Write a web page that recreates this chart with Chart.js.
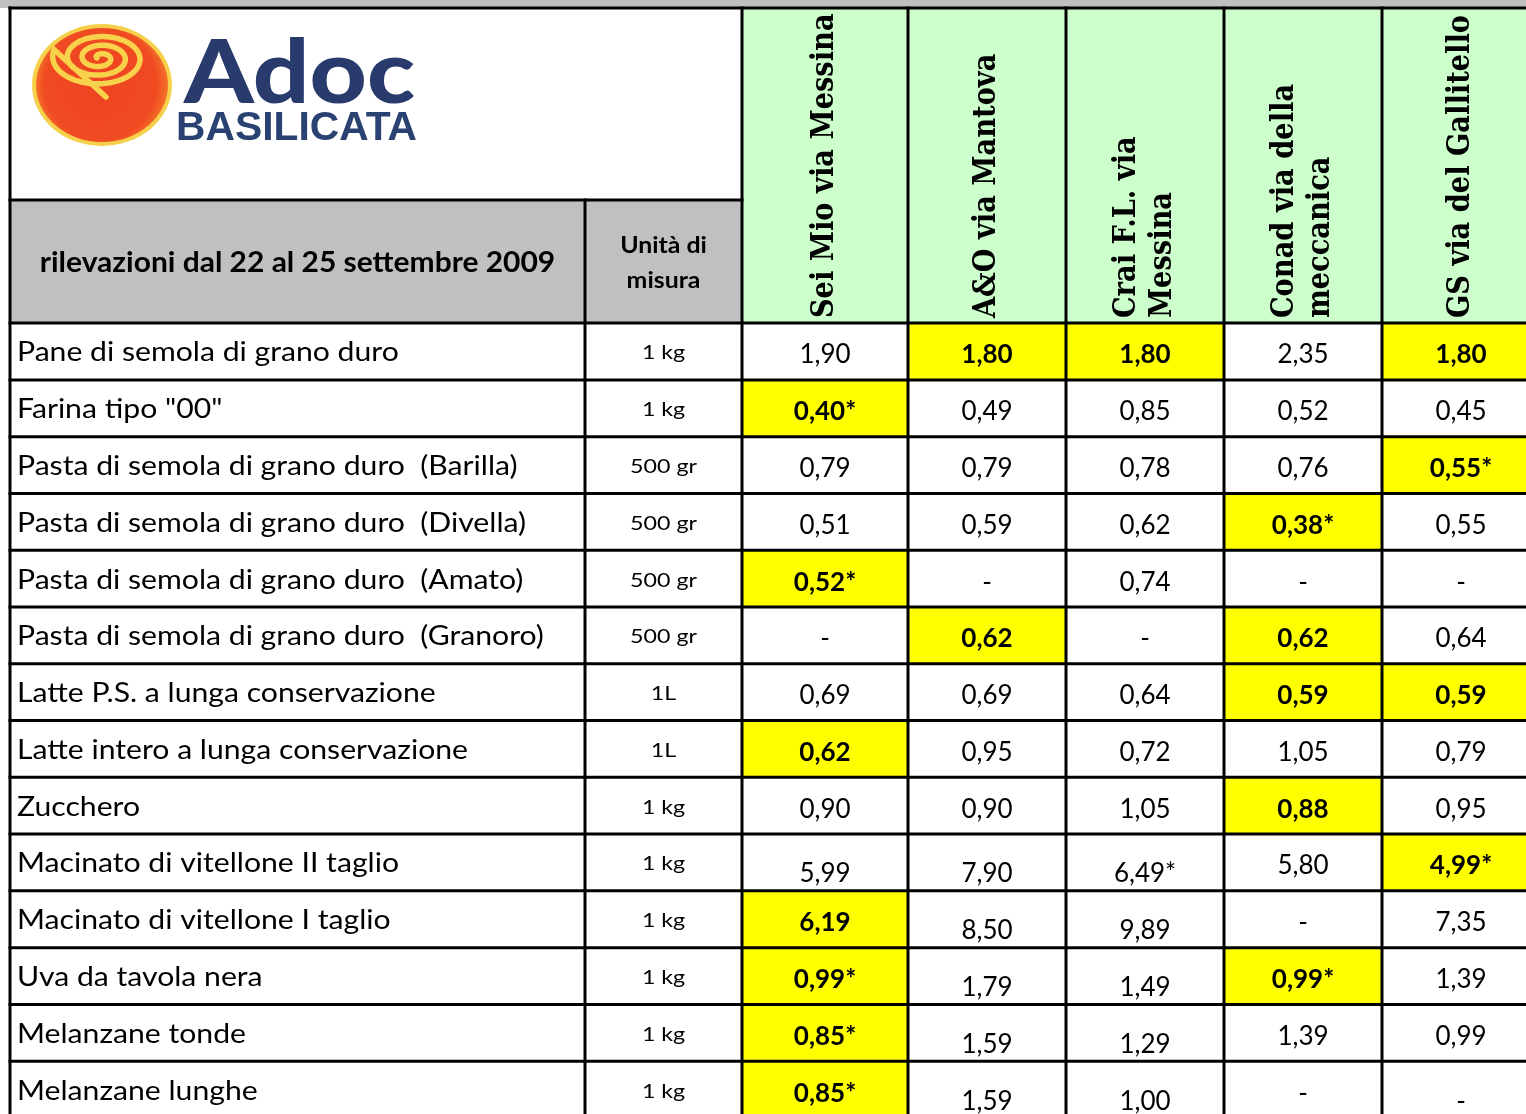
<!DOCTYPE html>
<html><head><meta charset="utf-8">
<script src="https://cdn.jsdelivr.net/npm/chart.js@4.4.1/dist/chart.umd.min.js"></script>
<style>html,body{margin:0;padding:0;background:#fff;overflow:hidden}canvas{display:block}</style>
</head><body>
<canvas id="c" width="1526" height="1114"></canvas>
<script>
// ---------- DATA ----------
const titleText = 'rilevazioni dal 22 al 25 settembre 2009';
const unitHeader = ['Unità di', 'misura'];
const logoWord = 'Adoc';
const logoRegion = 'BASILICATA';
const products = [
  'Pane di semola di grano duro',
  'Farina tipo "00"',
  'Pasta di semola di grano duro  (Barilla)',
  'Pasta di semola di grano duro  (Divella)',
  'Pasta di semola di grano duro  (Amato)',
  'Pasta di semola di grano duro  (Granoro)',
  'Latte P.S. a lunga conservazione',
  'Latte intero a lunga conservazione',
  'Zucchero',
  'Macinato di vitellone II taglio',
  'Macinato di vitellone I taglio',
  'Uva da tavola nera',
  'Melanzane tonde',
  'Melanzane lunghe'
];
const units = ['1 kg','1 kg','500 gr','500 gr','500 gr','500 gr','1L','1L','1 kg','1 kg','1 kg','1 kg','1 kg','1 kg'];
const stores = [['Sei Mio via Messina'], ['A&O via Mantova'], ['Crai F.L. via', 'Messina'], ['Conad via della', 'meccanica'], ['GS via del Gallitello']];
const seiMio = [1.90, 0.40, 0.79, 0.51, 0.52, null, 0.69, 0.62, 0.90, 5.99, 6.19, 0.99, 0.85, 0.85];
const aeo    = [1.80, 0.49, 0.79, 0.59, null, 0.62, 0.69, 0.95, 0.90, 7.90, 8.50, 1.79, 1.59, 1.59];
const crai   = [1.80, 0.85, 0.78, 0.62, 0.74, null, 0.64, 0.72, 1.05, 6.49, 9.89, 1.49, 1.29, 1.00];
const conad  = [2.35, 0.52, 0.76, 0.38, null, 0.62, 0.59, 1.05, 0.88, 5.80, null, 0.99, 1.39, null];
const gs     = [1.80, 0.45, 0.55, 0.55, null, 0.64, 0.59, 0.79, 0.95, 4.99, 7.35, 1.39, 0.99, null];
// rows whose price carries an asterisk
const seiMioStars = [1, 4, 11, 12, 13];
const aeoStars = [];
const craiStars = [9];
const conadStars = [3, 11];
const gsStars = [2, 9];

// ---------- LAYOUT / STYLE (not data) ----------
const colWidths = [575, 157, 166, 158, 158, 158, 158];
const logoUnits = 3.38, labelUnits = 2.17, visibleRows = 13.93;
const lowCells = [[9,0],[9,1],[9,2],[10,1],[10,2],[11,1],[11,2],[12,1],[12,2],[13,1],[13,2],[13,4]];
const YELLOW = '#ffff00', GREEN = '#ccffcc', GRAY = '#c0c0c0';

const series = [seiMio, aeo, crai, conad, gs];
const stars = [seiMioStars, aeoStars, craiStars, conadStars, gsStars];
const edges = [0];
colWidths.forEach(w => edges.push(edges[edges.length - 1] + w));
const headTop = -(logoUnits + labelUnits);
const labelTop = -labelUnits;

// highlighted cells: lowest price of each row
const highlight = [];
const isHigh = products.map(() => series.map(() => false));
products.forEach((p, r) => {
  const vals = series.map(s => s[r]).filter(v => v !== null);
  const mn = Math.min(...vals);
  series.forEach((s, c) => {
    if (s[r] !== null && s[r] === mn) {
      isHigh[r][c] = true;
      highlight.push({ y: r + 0.5, x: [edges[c + 2], edges[c + 3]] });
    }
  });
});

function fmt(v, star) {
  if (v === null) return '-';
  return v.toFixed(2).replace('.', ',') + (star ? '*' : '');
}

function txt(ctx, s, x, y, font, align, sx) {
  ctx.save();
  ctx.font = font;
  ctx.textBaseline = 'alphabetic';
  ctx.textAlign = align;
  ctx.translate(x, y);
  ctx.scale(sx, 1);
  ctx.fillText(s, 0, 0);
  ctx.restore();
}

const tablePlugin = {
  id: 'table',
  beforeDraw(chart) {
    const { ctx, chartArea } = chart;
    ctx.save();
    ctx.fillStyle = '#fff';
    ctx.fillRect(0, 0, chart.width, chart.height);
    ctx.fillStyle = GRAY;
    ctx.fillRect(0, 0, chart.width, chartArea.top);
    const X = v => chart.scales.x.getPixelForValue(v);
    const Y = v => chart.scales.y.getPixelForValue(v);
    ctx.fillStyle = GREEN;
    ctx.fillRect(X(edges[2]), Y(headTop), X(edges[7]) - X(edges[2]), Y(0) - Y(headTop));
    ctx.fillStyle = GRAY;
    ctx.fillRect(X(0), Y(labelTop), X(edges[2]) - X(0), Y(0) - Y(labelTop));
    ctx.restore();
  },
  afterDatasetsDraw(chart) {
    const { ctx } = chart;
    const X = v => chart.scales.x.getPixelForValue(v);
    const Y = v => chart.scales.y.getPixelForValue(v);
    const bottom = chart.chartArea.bottom + 5;
    ctx.save();
    ctx.strokeStyle = '#000';
    ctx.lineWidth = 3;
    ctx.lineCap = 'square';
    const hl = (y, x0, x1) => { ctx.beginPath(); ctx.moveTo(x0, y); ctx.lineTo(x1, y); ctx.stroke(); };
    const vl = (x, y0, y1) => { ctx.beginPath(); ctx.moveTo(x, y0); ctx.lineTo(x, y1); ctx.stroke(); };
    const right = chart.width + 5;
    hl(Y(headTop), X(0), right);
    hl(Y(labelTop), X(0), X(edges[2]));
    for (let r = 0; r <= products.length; r++) hl(Y(r), X(0), right);
    vl(X(0), Y(headTop), bottom);
    vl(X(edges[1]), Y(labelTop), bottom);
    for (let c = 2; c < edges.length; c++) vl(X(edges[c]), Y(headTop), bottom);

    ctx.fillStyle = '#000';
    const lm = (Y(labelTop) + Y(0)) / 2;
    txt(ctx, titleText, (X(0) + X(edges[1])) / 2, lm + 10, 'bold 28px Lato', 'center', 1.07);
    const uc = (X(edges[1]) + X(edges[2])) / 2;
    txt(ctx, unitHeader[0], uc, lm - 9, 'bold 22px Lato', 'center', 1.13);
    txt(ctx, unitHeader[1], uc, lm + 26, 'bold 22px Lato', 'center', 1.13);
    stores.forEach((lines, c) => {
      const cx = (X(edges[c + 2]) + X(edges[c + 3])) / 2;
      const n = lines.length;
      lines.forEach((line, i) => {
        const off = (i - (n - 1) / 2) * 36;
        ctx.save();
        ctx.translate(cx + off, Y(0) - 5);
        ctx.rotate(-Math.PI / 2);
        ctx.font = 'bold 31px "DejaVu Serif"';
        ctx.textAlign = 'left';
        ctx.textBaseline = 'middle';
        ctx.scale(0.88, 1);
        ctx.fillText(line, 0, 0);
        ctx.restore();
      });
    });
    products.forEach((p, r) => {
      const mid = (Y(r) + Y(r + 1)) / 2;
      txt(ctx, p, X(0) + 7, mid + 10, '26px Lato', 'left', 1.16);
      txt(ctx, units[r], (X(edges[1]) + X(edges[2])) / 2, mid + 8, '20px Lato', 'center', 1.16);
      series.forEach((s, c) => {
        const low = lowCells.some(([rr, cc]) => rr === r && cc === c);
        const cx = (X(edges[c + 2]) + X(edges[c + 3])) / 2;
        const label = fmt(s[r], stars[c].includes(r));
        const font = (isHigh[r][c] ? 'bold ' : '') + '26px Lato';
        txt(ctx, label, cx, mid + (low ? 20 : 12), font, 'center', 1.0);
      });
    });
    // logo
    const ox = X(0), oy = Y(headTop);
    const ex = ox + 92, ey = oy + 77;
    ctx.fillStyle = '#f6d04a';
    ctx.beginPath(); ctx.ellipse(ex, ey, 70, 61, 0, 0, Math.PI * 2); ctx.fill();
    const g = ctx.createRadialGradient(ex - 10, ey - 5, 10, ex, ey, 68);
    g.addColorStop(0, '#ee4422'); g.addColorStop(0.8, '#f04b22'); g.addColorStop(1, '#f47a2a');
    ctx.fillStyle = g;
    ctx.beginPath(); ctx.ellipse(ex, ey, 66, 57, 0, 0, Math.PI * 2); ctx.fill();
    ctx.strokeStyle = '#f7d24a';
    ctx.lineWidth = 5.5;
    ctx.lineCap = 'round';
    ctx.beginPath();
    const sx0 = ox + 90, sy0 = oy + 50;
    for (let t = 0; t <= 3.05 * Math.PI * 2; t += 0.05) {
      const rr = 3 + 14 * t / (Math.PI * 2);
      const px = sx0 + rr * Math.cos(t + Math.PI) * 1.05;
      const py = sy0 + rr * Math.sin(t + Math.PI) * 0.62;
      if (t === 0) ctx.moveTo(px, py); else ctx.lineTo(px, py);
    }
    ctx.lineTo(ox + 96, oy + 89);
    ctx.stroke();
    ctx.fillStyle = '#283b6c';
    txt(ctx, logoWord, ox + 174, oy + 95, '900 88px Lato', 'left', 1.13);
    ctx.fillStyle = '#2a4272';
    txt(ctx, logoRegion, ox + 166, oy + 132, 'bold 40px "Liberation Sans"', 'left', 1.02);
    ctx.restore();
  }
};

new Chart(document.getElementById('c'), {
  type: 'bar',
  data: {
    datasets: [{
      label: 'prezzo più basso',
      data: highlight,
      backgroundColor: YELLOW,
      borderWidth: 0,
      categoryPercentage: 1,
      barPercentage: 1
    }]
  },
  options: {
    indexAxis: 'y',
    responsive: false,
    animation: false,
    devicePixelRatio: 1,
    layout: { padding: { left: 10, top: 8, right: 0, bottom: 0 } },
    plugins: { legend: { display: false }, tooltip: { enabled: false } },
    scales: {
      x: { type: 'linear', display: false, offset: false, min: 0, max: 1516 },
      y: { type: 'linear', display: false, offset: false, reverse: true, min: headTop, max: visibleRows,
           ticks: { stepSize: 1, includeBounds: false } }
    }
  },
  plugins: [tablePlugin]
});
</script>
</body></html>
